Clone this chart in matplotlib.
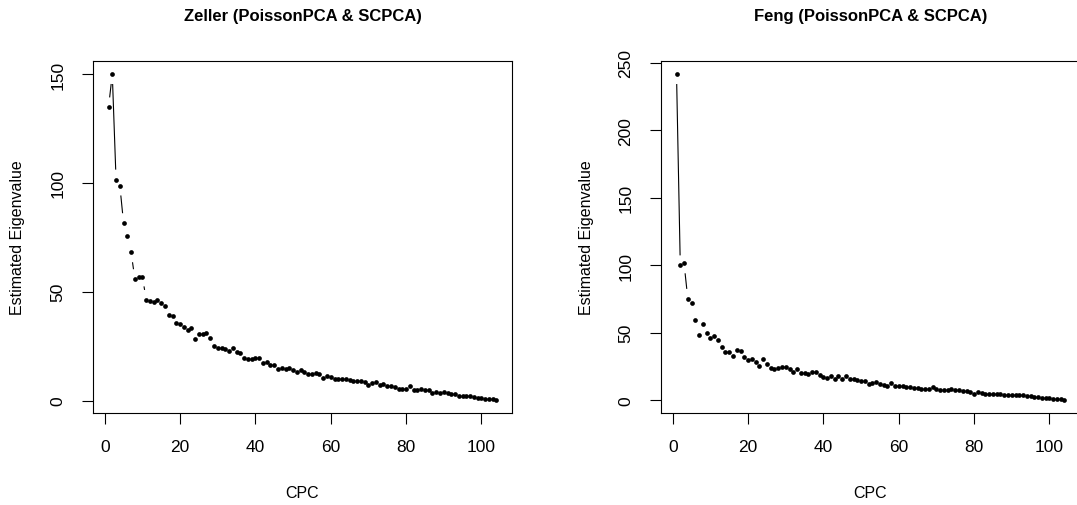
import numpy as np
import matplotlib
matplotlib.use("Agg")
import matplotlib.pyplot as plt
from matplotlib.collections import LineCollection

plt.rcParams['font.family'] = ['Liberation Sans', 'DejaVu Sans']

titles = ["Zeller (PoissonPCA & SCPCA)", "Feng (PoissonPCA & SCPCA)"]
xlabel = "CPC"
ylabel = "Estimated Eigenvalue"

zeller = [134.7, 150.0, 101.5, 98.8, 81.5, 75.7, 68.1, 55.8, 56.6, 57.0,
          46.3, 45.9, 45.4, 46.0, 44.9, 43.5, 39.2, 38.7, 35.6, 35.3,
          33.8, 32.4, 33.3, 28.4, 30.4, 30.5, 30.9, 28.6, 24.9, 24.3,
          24.1, 23.7, 22.6, 24.3, 22.4, 21.8, 19.4, 19.2, 19.2, 19.8,
          19.8, 17.5, 17.6, 16.3, 16.2, 14.3, 15.1, 14.5, 15.0, 14.0,
          13.0, 14.1, 13.0, 12.4, 12.3, 12.6, 12.4, 10.3, 11.5, 10.8,
          9.7, 9.8, 9.7, 9.8, 9.5, 9.1, 9.1, 8.8, 8.6, 7.1,
          8.2, 8.6, 7.4, 7.5, 6.5, 6.5, 6.3, 5.5, 5.4, 5.4,
          6.9, 5.1, 5.1, 5.5, 4.9, 4.8, 3.7, 4.0, 3.5, 3.9,
          3.5, 3.1, 3.0, 2.3, 2.2, 2.0, 1.9, 1.7, 1.2, 1.1,
          0.9, 0.8, 0.6, 0.3]

feng = [241.8, 99.9, 101.4, 75.1, 71.7, 59.4, 48.4, 56.5, 50.0, 46.0,
        47.6, 44.3, 39.7, 35.6, 36.0, 32.8, 37.2, 36.1, 31.9, 29.5,
        30.2, 28.3, 25.4, 30.2, 26.8, 24.0, 23.1, 24.0, 24.5, 24.2,
        23.1, 21.1, 22.7, 20.2, 20.0, 19.0, 21.2, 21.0, 18.9, 17.2,
        16.5, 17.9, 15.9, 17.7, 15.4, 17.7, 15.9, 15.9, 15.0, 14.5,
        14.2, 12.0, 13.0, 13.5, 12.0, 11.3, 10.7, 13.0, 10.2, 10.2,
        10.5, 10.0, 9.5, 9.3, 9.0, 8.3, 8.3, 8.3, 9.5, 8.0,
        7.5, 7.5, 7.3, 8.3, 7.3, 7.3, 6.8, 6.8, 6.3, 4.6,
        6.3, 5.3, 4.6, 4.4, 4.8, 4.6, 4.4, 4.1, 4.1, 3.9,
        3.9, 3.6, 3.6, 3.1, 2.8, 2.4, 2.2, 1.9, 1.6, 1.4,
        1.1, 0.9, 0.6, 0.1]

xticks = [0, 20, 40, 60, 80, 100]
yticks_list = [[0, 50, 100, 150], [0, 50, 100, 150, 200, 250]]

W, H = 1077, 506
DPI = 100
fig = plt.figure(figsize=(W / DPI, H / DPI), dpi=DPI)

box_w = 419
box_top, box_bot = 62, 414
lefts = [93, 661]


def rlim(vals):
    lo, hi = min(vals), max(vals)
    r = hi - lo
    return lo - 0.04 * r, hi + 0.04 * r


for i, (vals, title, yt) in enumerate(zip([zeller, feng], titles, yticks_list)):
    ax = fig.add_axes([lefts[i] / W, 1 - box_bot / H, box_w / W, (box_bot - box_top) / H])
    x = np.arange(1, len(vals) + 1)
    y = np.array(vals)
    ax.set_xlim(*rlim(x))
    ax.set_ylim(*rlim(y))
    ax.plot(x, y, 'o', color='black', markersize=3.4, markeredgewidth=0)

    # type = "b": segments with gaps around points
    fig.canvas.draw()
    pts = ax.transData.transform(np.column_stack([x, y]))
    gap = 10.0
    segs = []
    for k in range(len(pts) - 1):
        p0, p1 = pts[k], pts[k + 1]
        d = p1 - p0
        L = np.hypot(*d)
        if L > 2 * gap:
            u = d / L
            a = p0 + u * gap
            b = p1 - u * gap
            segs.append(ax.transData.inverted().transform(np.array([a, b])))
    ax.add_collection(LineCollection(segs, colors='black', linewidths=0.8))

    ax.set_xticks(xticks)
    ax.set_yticks(yt)
    ax.tick_params(axis='both', length=7.9, width=0.8, labelsize=12.5, color='black')
    ax.tick_params(axis='x', pad=11)
    ax.tick_params(axis='y', pad=12)
    for lab in ax.get_yticklabels():
        lab.set_rotation(90)
        lab.set_va('center')
        lab.set_ha('right')
    for s in ax.spines.values():
        s.set_linewidth(0.8)
        s.set_color('black')

    cx = (lefts[i] + box_w / 2) / W
    fig.text(cx, 1 - 17 / H, title, ha='center', va='center', fontsize=12, fontweight='bold')
    fig.text(cx, 1 - 494 / H, xlabel, ha='center', va='center', fontsize=11.5)
    ylx = 18 if i == 0 else 586
    fig.text(ylx / W, 1 - ((box_top + box_bot) / 2) / H, ylabel, ha='center', va='center',
             rotation=90, fontsize=11.5)

fig.savefig("out.png", dpi=DPI)
